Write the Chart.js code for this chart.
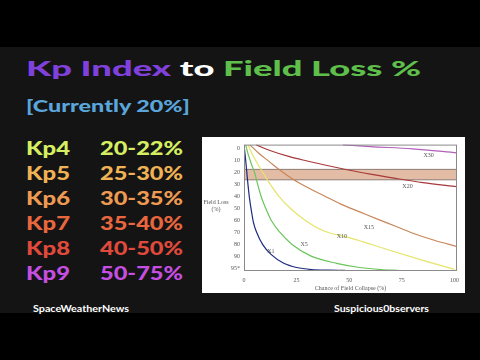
<!DOCTYPE html>
<html>
<head>
<meta charset="utf-8">
<script src="https://cdn.jsdelivr.net/npm/chart.js@4.4.1/dist/chart.umd.min.js"></script>
<style>
  html, body { margin: 0; padding: 0; }
  body { width: 480px; height: 360px; background: #000; position: relative; overflow: hidden; font-family: Lato, "Open Sans", sans-serif; font-weight: 900; }
  #panel { position: absolute; left: 0; top: 47px; width: 480px; height: 266px; background: #141414; }
  .txt { position: absolute; white-space: nowrap; line-height: 1; transform-origin: left top; }
  #chartBox { position: absolute; left: 202px; top: 137px; width: 263px; height: 156px; background: #fff; }
</style>
</head>
<body>
<div id="panel"></div>
<div class="txt" id="title" style="left:26px; top:58px; font-size:20px;"><span style="color:#8040dc">Kp Index</span> <span style="color:#fff">to</span> <span style="color:#5fbf4b">Field Loss %</span></div>
<div class="txt" id="sub" style="left:26px; top:97px; font-size:17px; color:#5aa6dc;">[Currently 20%]</div>
<div id="kpList"></div>
<div class="txt" id="footL" style="left:33px; top:304px; font-size:9px; color:#fff; font-weight:700;">SpaceWeatherNews</div>
<div class="txt" id="footR" style="left:334px; top:304px; font-size:9px; color:#fff; font-weight:700;">Suspicious0bservers</div>
<div id="chartBox"><canvas id="grafico"></canvas></div>

<script>
// Kp tabla
const kpLevels = ["Kp4", "Kp5", "Kp6", "Kp7", "Kp8", "Kp9"];
const kpRanges = ["20-22%", "25-30%", "30-35%", "35-40%", "40-50%", "50-75%"];
const kpColors = ["#d6ee62", "#efb255", "#ee9a52", "#e8673f", "#e04a3c", "#c44fe0"];

// curvas: chance of collapse (x) vs field loss (y)
const seriesNames = ["X1", "X5", "X10", "X15", "X20", "X30"];
const seriesColors = ["#1c2a80", "#6cc45c", "#e6e46a", "#c8865a", "#a8383a", "#b060b8"];

const x1Chance = [0, 0.8, 1.6, 2.5, 3.5, 4.5, 6, 8.9, 12.7, 18.9, 25, 32, 40, 48];
const x1Loss   = [-3, 10, 25, 40, 52, 62, 70, 80.4, 88.3, 96, 99.5, 101.2, 101.7, 101.8];
const x5Chance = [0.8, 2, 3.5, 5, 6.5, 8.1, 10.3, 12.9, 17, 22.7, 31.9, 44, 55, 65, 73];
const x5Loss   = [-3, 5, 13, 20, 30, 40, 50, 60, 70, 80, 90, 96, 99.5, 101.2, 101.8];
const x10Chance = [1.8, 4, 6.5, 8.9, 12.5, 16.6, 22, 29, 38, 50, 61, 70.4, 85, 100];
const x10Loss   = [-3, 5, 13, 20, 30, 40, 50, 60, 69, 74.5, 80.5, 85.7, 93.5, 101];
const x15Chance = [2.8, 7, 12, 17, 23.5, 30, 38, 46, 55, 64, 72, 79.6, 90, 101.2];
const x15Loss   = [-3, 4, 11, 18, 26, 32.5, 39.5, 46.5, 53, 59.5, 65, 70.4, 76.5, 82];
const x20Chance = [5.8, 12, 21.6, 30, 40, 49, 60, 72, 85, 101.2];
const x20Loss   = [-3, 1.5, 6.9, 10.5, 14.5, 17.8, 21.5, 25, 28.5, 32];
const x30Chance = [47, 60, 80, 101.2];
const x30Loss   = [-3, -1.5, 0.3, 3.7];

const labelChance = [12.8, 28.6, 46.5, 59.3, 77.7, 87.7];
const labelLoss   = [86, 80.4, 73.5, 65.9, 32, 5.6];

const bandLoss = [17.5, 26.2];

const xTicks = [0, 25, 50, 75, 100];
const yTicks = [0, 10, 20, 30, 40, 50, 60, 70, 80, 90, 100];
const yTickLabels = ["0", "10", "20", "30", "40", "50", "60", "70", "80", "90", "95*"];

function ajustar(el, ancho) {
    const w = el.getBoundingClientRect().width;
    el.style.transform = `scaleX(${ancho / w})`;
}

// lista de Kp
const kpList = document.getElementById("kpList");
kpLevels.forEach((kp, i) => {
    const top = 138.6 + i * 25;
    const a = document.createElement("div");
    a.className = "txt";
    a.style.cssText = `left:26px; top:${top}px; font-size:18.5px; color:${kpColors[i]};`;
    a.textContent = kp;
    const b = document.createElement("div");
    b.className = "txt";
    b.style.cssText = `left:100px; top:${top}px; font-size:18.5px; color:${kpColors[i]};`;
    b.textContent = kpRanges[i];
    kpList.appendChild(a);
    kpList.appendChild(b);
    ajustar(a, 44);
    ajustar(b, 83);
});
ajustar(document.getElementById("title"), 395);
ajustar(document.getElementById("sub"), 164);
ajustar(document.getElementById("footL"), 96);
ajustar(document.getElementById("footR"), 95);

const chances = [x1Chance, x5Chance, x10Chance, x15Chance, x20Chance, x30Chance];
const losses = [x1Loss, x5Loss, x10Loss, x15Loss, x20Loss, x30Loss];

const serif = "'Liberation Serif', 'DejaVu Serif', serif";

const bandaPlugin = {
    id: "banda",
    beforeDatasetsDraw(chart) {
        const { ctx, chartArea, scales } = chart;
        const y1 = scales.y.getPixelForValue(bandLoss[0]);
        const y2 = scales.y.getPixelForValue(bandLoss[1]);
        ctx.save();
        ctx.fillStyle = "rgb(226,188,164)";
        ctx.fillRect(chartArea.left, y1, chartArea.right - chartArea.left, y2 - y1);
        ctx.strokeStyle = "#8c7c74";
        ctx.lineWidth = 1;
        ctx.strokeRect(chartArea.left + 0.5, y1, chartArea.right - chartArea.left - 1, y2 - y1);
        ctx.restore();
    },
    afterDatasetsDraw(chart) {
        const { ctx, chartArea, scales } = chart;
        ctx.save();
        ctx.font = "6px " + serif;
        ctx.fillStyle = "#555";
        ctx.textAlign = "center";
        ctx.textBaseline = "middle";
        seriesNames.forEach((n, i) => {
            ctx.fillText(n, scales.x.getPixelForValue(labelChance[i]), scales.y.getPixelForValue(labelLoss[i]));
        });
        // titulo del eje y
        ctx.fillText("Field Loss", 14, 65);
        ctx.fillText("(%)", 14, 72);
        // marco
        ctx.strokeStyle = "#8a8a8a";
        ctx.lineWidth = 1;
        ctx.strokeRect(chartArea.left + 0.5, chartArea.top + 0.5, chartArea.right - chartArea.left - 1, chartArea.bottom - chartArea.top - 1);
        ctx.restore();
    }
};

new Chart(document.getElementById("grafico").getContext("2d"), {
    type: "scatter",
    data: {
        datasets: seriesNames.map((n, i) => ({
            label: n,
            data: chances[i].map((x, j) => ({ x: x, y: losses[i][j] })),
            showLine: true,
            borderColor: seriesColors[i],
            borderWidth: 1.2,
            pointRadius: 0,
            cubicInterpolationMode: "monotone"
        }))
    },
    options: {
        responsive: true,
        maintainAspectRatio: false,
        animation: false,
        layout: { padding: { top: 1, right: 2, left: 0, bottom: 0 } },
        plugins: { legend: { display: false }, tooltip: { enabled: false } },
        scales: {
            x: {
                type: "linear",
                min: 0,
                max: 101.2,
                grid: { display: false, drawTicks: false },
                border: { display: false },
                afterBuildTicks: s => { s.ticks = xTicks.map(v => ({ value: v })); },
                afterFit: s => { s.height = 22; },
                ticks: { padding: 6, color: "#555", font: { family: serif, size: 6 }, maxRotation: 0 },
                title: { display: true, text: "Chance of Field Collapse (%)", color: "#555", font: { family: serif, size: 6 }, padding: { top: 0, bottom: 1 } }
            },
            y: {
                type: "linear",
                reverse: true,
                min: -3.2,
                max: 102.4,
                grid: { display: false, drawTicks: false },
                border: { display: false },
                afterBuildTicks: s => { s.ticks = yTicks.map(v => ({ value: v })); },
                afterFit: s => { s.width = 42; },
                ticks: {
                    padding: 4,
                    color: "#555",
                    font: { family: serif, size: 6 },
                    callback: (v) => yTickLabels[yTicks.indexOf(v)]
                }
            }
        }
    },
    plugins: [bandaPlugin]
});
</script>
</body>
</html>
